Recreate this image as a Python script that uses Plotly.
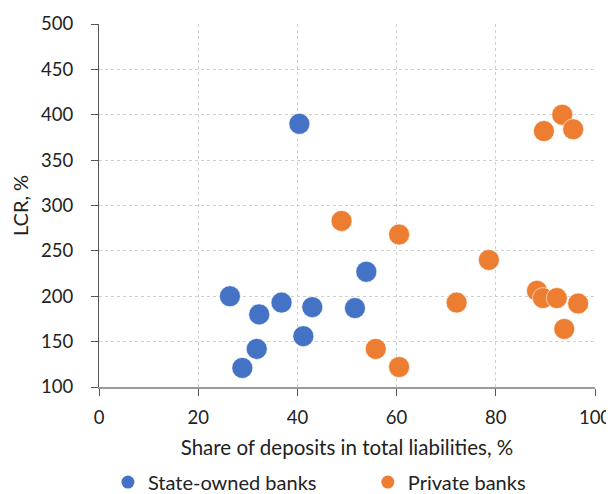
import plotly.graph_objects as go

state_x = [40.4, 26.4, 32.3, 36.8, 43.0, 51.6, 53.9, 31.8, 41.2, 28.9]
state_y = [390, 200, 180, 193, 188, 187, 227, 142, 156, 121]
private_x = [48.9, 60.5, 55.8, 60.5, 93.4, 89.7, 95.6, 78.6, 72.1, 88.3, 89.5, 92.3, 96.6, 93.8]
private_y = [283, 268, 142, 122, 400, 382, 384, 240, 193, 206, 198, 198, 192, 164]

BLUE = "#4472C4"
ORANGE = "#ED7D31"
FONT = "Lato"
fig = go.Figure()
fig.add_trace(go.Scatter(x=state_x, y=state_y, mode="markers", name="State-owned banks", showlegend=False,
                         marker=dict(color=BLUE, size=21, line=dict(color="white", width=0.6))))
fig.add_trace(go.Scatter(x=private_x, y=private_y, mode="markers", name="Private banks", showlegend=False,
                         marker=dict(color=ORANGE, size=21, line=dict(color="white", width=0.6))))
# legend entries
fig.add_trace(go.Scatter(x=[None], y=[None], mode="markers", name="State-owned banks", legend="legend",
                         marker=dict(color=BLUE, size=13)))
fig.add_trace(go.Scatter(x=[None], y=[None], mode="markers", name="Private banks", legend="legend2",
                         marker=dict(color=ORANGE, size=13)))

fig.update_layout(
    width=606, height=486,
    margin=dict(l=91, r=19, t=16, b=107, autoexpand=False),
    paper_bgcolor="white", plot_bgcolor="white",
    font=dict(family=FONT, size=18, color="#222222"),
    showlegend=True,
    legend=dict(x=0.018, xanchor="left", y=-0.262, yanchor="middle", font=dict(size=20),
                bgcolor="rgba(0,0,0,0)"),
    legend2=dict(x=0.542, xanchor="left", y=-0.262, yanchor="middle", font=dict(size=20),
                 bgcolor="rgba(0,0,0,0)"),
    xaxis=dict(range=[0, 100], dtick=20, showgrid=True, gridcolor="#d0d0d0", griddash="dot",
               showline=True, linecolor="#9a9a9a", linewidth=1.5, ticks="outside", tickcolor="#555555",
               ticklen=7, zeroline=False, ticklabelstandoff=6, tickfont=dict(size=18.5),
               title=dict(text="Share of deposits in total liabilities, %", standoff=14, font=dict(size=20.5))),
    yaxis=dict(range=[100, 500], dtick=50, showgrid=True, gridcolor="#d0d0d0", griddash="dot",
               showline=True, linecolor="#555555", linewidth=1, ticks="outside", tickcolor="#555555",
               ticklen=7, zeroline=False, ticklabelstandoff=14, tickfont=dict(size=18.5),
               title=dict(text="LCR, %", standoff=11, font=dict(size=20))),
)
fig.write_html("out.html")
